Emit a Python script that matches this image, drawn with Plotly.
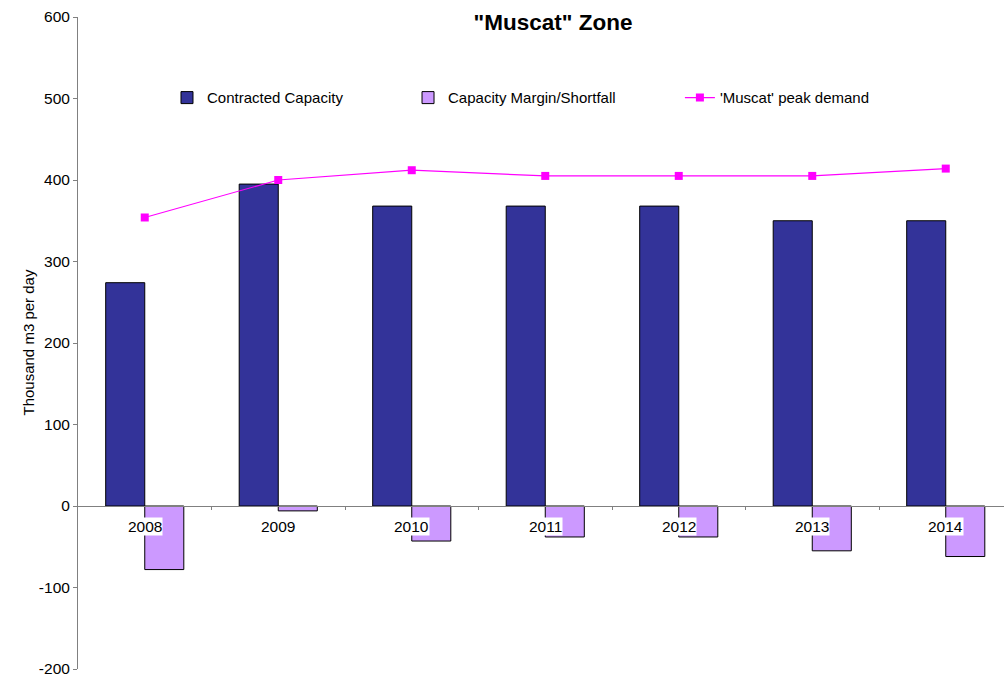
import plotly.graph_objects as go

years = ["2008", "2009", "2010", "2011", "2012", "2013", "2014"]
contracted = [274, 395, 368, 368, 368, 350, 350]
margin = [-78, -6, -43, -38, -38, -55, -62]
demand = [354, 400, 412, 405, 405, 405, 414]
y_ticks = [-200, -100, 0, 100, 200, 300, 400, 500, 600]
y_tick_labels = ["-200", "-100", "0", "100", "200", "300", "400", "500", "600"]

FONT = "Liberation Sans, Arial, sans-serif"
xs = list(range(len(years)))

fig = go.Figure()
fig.add_trace(go.Bar(x=xs, y=contracted, name="Contracted Capacity",
                     marker=dict(color="#333399", line=dict(color="black", width=1)),
                     legend="legend", showlegend=True))
fig.add_trace(go.Bar(x=xs, y=margin, name="Capacity Margin/Shortfall",
                     marker=dict(color="#CC99FF", line=dict(color="black", width=1)),
                     legend="legend2", showlegend=True))
fig.add_trace(go.Scatter(x=xs, y=demand, name="'Muscat' peak demand", mode="lines+markers",
                         line=dict(color="#FF00FF", width=1.2),
                         marker=dict(symbol="square", size=8, color="#FF00FF"),
                         legend="legend3", showlegend=True))

for i, yr in enumerate(years):
    fig.add_annotation(x=i, y=0, xref="x", yref="y", text=yr, showarrow=False,
                       yshift=-20, bgcolor="white", borderpad=0,
                       font=dict(family=FONT, size=15.5, color="black"))

fig.add_annotation(x=(17 - 78) / 926, y=0.5, xref="paper", yref="paper",
                   text="Thousand m3 per day", textangle=-90, showarrow=False,
                   font=dict(family=FONT, size=15, color="black"))

leg_common = dict(orientation="h", yanchor="middle", xanchor="left", y=0.876,
                  font=dict(family=FONT, size=15, color="black"), bgcolor="rgba(0,0,0,0)")
fig.update_layout(
    width=1004, height=677,
    showlegend=True,
    margin=dict(l=78, r=0, t=16.5, b=8),
    paper_bgcolor="white", plot_bgcolor="white",
    barmode="group", bargap=0.415, bargroupgap=0,
    title=dict(text='<b>"Muscat" Zone</b>', x=553 / 1004, xanchor="center", xref="container",
               y=1 - 22 / 677, yanchor="middle", yref="container",
               font=dict(family=FONT, size=22.5, color="black")),
    legend=dict(x=0.0961, **leg_common),
    legend2=dict(x=0.3564, **leg_common),
    legend3=dict(x=0.650, **leg_common),
    xaxis=dict(range=[-0.5, -0.5 + 926 / 133.5], anchor="free", position=0.25,
               showline=True, linecolor="#808080", linewidth=1,
               tickvals=[i + 0.5 for i in xs], ticktext=["" for _ in xs],
               ticks="outside", ticklen=3, tickcolor="#808080",
               showgrid=False, zeroline=False),
    yaxis=dict(range=[-200, 600], tickmode="array", tickvals=y_ticks, ticktext=y_tick_labels,
               showline=True, linecolor="#808080", linewidth=1, ticklabeloverflow="allow",
               ticks="outside", ticklen=4, tickcolor="#808080", showgrid=False, zeroline=False,
               tickfont=dict(family=FONT, size=15.5, color="black")),
)

fig.write_html("out.html")
